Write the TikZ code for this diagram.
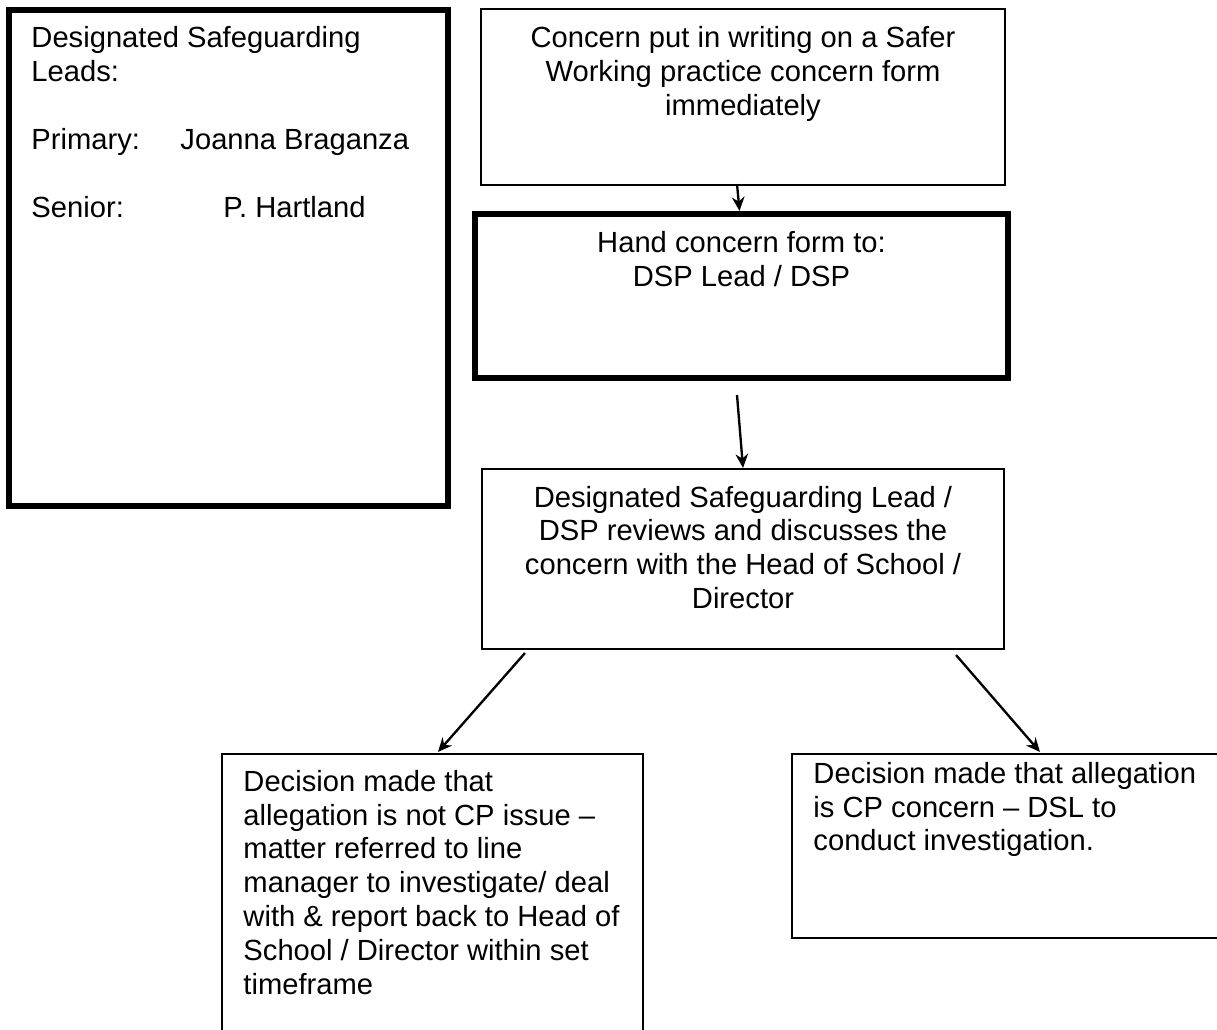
\documentclass[tikz,border=0pt]{standalone}
\usepackage{fontspec}
\setmainfont{Liberation Sans}
\usetikzlibrary{arrows.meta,fit,calc}
\newcommand\leftlines[1]{\parbox[t]{200pt}{\raggedright #1}}
\newcommand\centerlines[2]{\parbox[t]{#1}{\centering #2}}
\begin{document}
\begin{tikzpicture}[x=0.4286pt,y=-0.4286pt,
  thinbox/.style={draw,line width=0.9pt,inner sep=0pt},
  thickbox/.style={draw,line width=2.6pt,inner sep=0pt},
  txt/.style={inner sep=0pt,anchor=base west,font=\fontsize{12.5}{14.57}\selectfont},
  ctxt/.style={inner sep=0pt,anchor=base,font=\fontsize{12.5}{14.57}\selectfont},
  arr/.style={-{Stealth[length=6pt,width=5.4pt,inset=2pt]},line width=1pt}]
\fill[white] (0,0) rectangle (1217,1030);
\useasboundingbox (0,0) rectangle (1217,1030);
\clip (0,0) rectangle (1217,1030);
% boxes
\node[thickbox,fit={(9,10) (448,506)}] (L) {};
\node[thinbox,fit={(481,9) (1005,185)}] (T) {};
\node[thickbox,fit={(475,214) (1008,378)}] (H) {};
\node[thinbox,fit={(482,469) (1004,649)}] (R) {};
\node[thinbox,fit={(222,754) (643,1045)}] (BL) {};
\node[thinbox,fit={(792,754) (1235,938)}] (BR) {};
% texts
\node[txt] (l1) at (31,48) {\leftlines{Designated Safeguarding\\Leads:}};
\node[txt] (l2) at (31,150) {Primary:};
\node[txt] (l3) at (180,150) {Joanna Braganza};
\node[txt] (l4) at (31,218) {Senior:};
\node[txt] (l5) at (223,218) {P. Hartland};
\node[ctxt] (t1) at (743,48) {\centerlines{230pt}{Concern put in writing on a Safer\\Working practice concern form\\immediately}};
\node[ctxt] (h1) at (741.5,253) {\centerlines{230pt}{Hand concern form to:\\DSP Lead / DSP}};
\node[ctxt] (r1) at (743,507) {\centerlines{230pt}{Designated Safeguarding Lead /\\DSP reviews and discusses the\\concern with the Head of School /\\Director}};
\node[txt] (b1) at (243,791) {\leftlines{Decision made that\\allegation is not CP issue --\\matter referred to line\\manager to investigate/ deal\\with \& report back to Head of\\School / Director within set\\timeframe}};
\node[txt] (c1) at (813,783) {\leftlines{Decision made that allegation\\is CP concern -- DSL to\\conduct investigation.}};
% connectors
\draw[arr] ([shift={(-6,-2)}]T.south) -- ([shift={(-2,0)}]H.north);
\draw[arr] ([shift={(-4.5,14)}]H.south) -- (R.north);
\draw[arr] ([shift={(44,3)}]R.south west) -- ([shift={(5.5,-1)}]BL.north);
\draw[arr] ([shift={(-49,5)}]R.south east) -- ([shift={(249,-1)}]BR.north west);
\end{tikzpicture}
\end{document}
